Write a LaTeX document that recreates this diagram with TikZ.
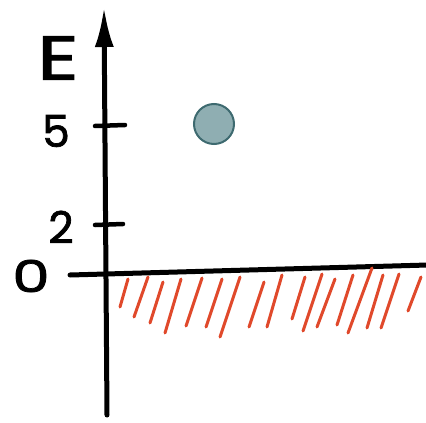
\documentclass[tikz,border=0pt]{standalone}
\usepackage{fontspec}
\newfontfamily\handfont{Poppins}[FakeBold=1.6]
\usetikzlibrary{arrows.meta,positioning}
\definecolor{ballfill}{HTML}{8FAEB2}
\definecolor{balledge}{HTML}{3E6A70}
\definecolor{hatchred}{HTML}{E0492B}
\tikzset{
  axisline/.style={line width=5pt, line cap=round},
  axisarrow/.style={axisline, -{Latex[length=40pt,width=19pt]}},
  tickline/.style={line width=4.5pt, line cap=round},
  hatchline/.style={draw=hatchred, line width=3pt, line cap=round},
  biglabel/.style={inner sep=0pt, xscale=1.3, font=\handfont\fontsize{62}{62}\selectfont},
  numlabel/.style={inner sep=0pt, font=\handfont\fontsize{44}{44}\selectfont},
  ball/.style={circle, draw=balledge, fill=ballfill, line width=2pt, minimum size=40pt, inner sep=0pt},
}
\begin{document}
\begin{tikzpicture}[x=1pt, y=-1pt]
\useasboundingbox (0,0) rectangle (426,423);

% axes
\coordinate (ybot) at (107,415);
\coordinate (ytop) at (104,7);
\coordinate (xleft) at (70,275);
\coordinate (xright) at (428,265);
\draw[axisarrow] (ybot) -- (ytop);
\draw[axisline] (xleft) -- (xright);

% ticks
\coordinate (t5a) at (95,126);
\coordinate (t5b) at (125,125);
\coordinate (t2a) at (95,225);
\coordinate (t2b) at (123,224);
\draw[tickline] (t5a) -- (t5b);
\draw[tickline] (t2a) -- (t2b);

% labels
\node[biglabel] (elab) at (58,58) {E};
\node[numlabel] (five) at (56,131) {5};
\node[numlabel] (two) at (61,227) {2};
\node[numlabel, xscale=1.35] (zero) at (31,276) {0};

% state
\node[ball] (state) at (214,124) {};

% forbidden region
\foreach \xa/\ya/\xb/\yb in {128/279/120/307, 148/277/134/317, 163/282/150/323,
  181/279/165/333, 202/278/186/326, 222/279/206/327, 240/277/220/337,
  264/282/249/327, 282/275/267/327, 305/277/292/319, 322/274/303/331,
  335/279/317/327, 353/275/337/325, 372/268/348/333, 383/275/367/328,
  399/274/381/328, 421/277/408/311}
  \draw[hatchline] (\xa,\ya) -- (\xb,\yb);
\end{tikzpicture}
\end{document}
